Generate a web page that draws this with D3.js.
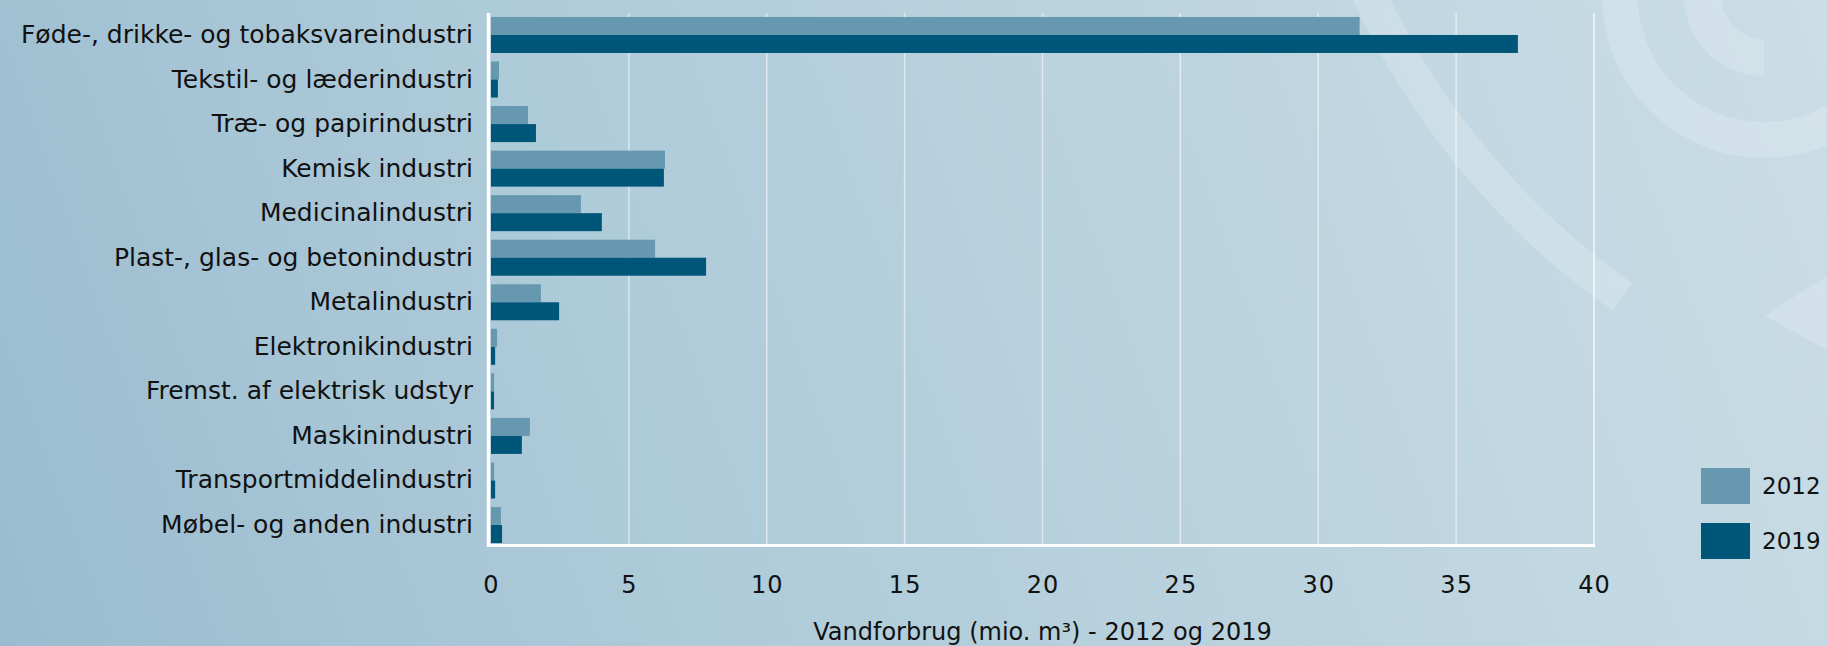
<!DOCTYPE html>
<html>
<head>
<meta charset="utf-8">
<script src="https://cdn.jsdelivr.net/npm/d3@7"></script>
<style>
    body { margin: 0; padding: 0; overflow: hidden; }
    svg { display: block; }
    .cat-label { font-family: "DejaVu Sans", sans-serif; font-size: 25px; fill: #111; }
    .num-label { font-family: "DejaVu Sans", sans-serif; font-size: 24px; letter-spacing: 1px; fill: #111; }
    .legend-label { font-family: "DejaVu Sans", sans-serif; font-size: 23px; fill: #111; }
</style>
</head>
<body>
<div id="chart"></div>
<script>
// parameters
var svgWidth = 1827;
var svgHeight = 646;

// data
var categories = [
    "Føde-, drikke- og tobaksvareindustri",
    "Tekstil- og læderindustri",
    "Træ- og papirindustri",
    "Kemisk industri",
    "Medicinalindustri",
    "Plast-, glas- og betonindustri",
    "Metalindustri",
    "Elektronikindustri",
    "Fremst. af elektrisk udstyr",
    "Maskinindustri",
    "Transportmiddelindustri",
    "Møbel- og anden industri"
];
var years = ["2012", "2019"];
var values2012 = [31.5, 0.29, 1.34, 6.31, 3.26, 5.95, 1.81, 0.22, 0.11, 1.41, 0.11, 0.36];
var values2019 = [37.24, 0.25, 1.63, 6.27, 4.02, 7.8, 2.47, 0.15, 0.11, 1.12, 0.15, 0.4];
var xTicks = [0, 5, 10, 15, 20, 25, 30, 35, 40];
var xTitle = "Vandforbrug (mio. m³) - 2012 og 2019";

var colors = { "2012": "#6698b0", "2019": "#005679" };

// plot box
var plot = { left: 491, right: 1594, top: 12.7, bottom: 547.3 };

var svg = d3.select("#chart")
    .append("svg")
    .attr("width", svgWidth)
    .attr("height", svgHeight);

// background
var defs = svg.append("defs");
var grad = defs.append("linearGradient")
    .attr("id", "bg")
    .attr("gradientUnits", "userSpaceOnUse")
    .attr("x1", 0).attr("y1", svgHeight)
    .attr("x2", svgWidth).attr("y2", 0);
grad.append("stop").attr("offset", "0%").attr("stop-color", "#9bbcd0");
grad.append("stop").attr("offset", "35%").attr("stop-color", "#aecbd9");
grad.append("stop").attr("offset", "100%").attr("stop-color", "#cbdde6");

svg.append("rect")
    .attr("width", svgWidth)
    .attr("height", svgHeight)
    .attr("fill", "url(#bg)");

// watermark shapes (light arcs on the right)
var deco = svg.append("g")
    .attr("fill", "#ffffff")
    .attr("fill-opacity", 0.18);

var bigArc = d3.arc()
    .innerRadius(745)
    .outerRadius(779)
    .startAngle(-2.53)
    .endAngle(-1.8);
deco.append("path")
    .attr("transform", "translate(2060,-327)")
    .attr("d", bigArc());

var ringOuter = d3.arc().innerRadius(126).outerRadius(162)
    .startAngle(Math.PI * 0.3).endAngle(Math.PI * 1.6);
deco.append("path")
    .attr("transform", "translate(1764,-4)")
    .attr("d", ringOuter());

var ringInner = d3.arc().innerRadius(43).outerRadius(80)
    .startAngle(Math.PI).endAngle(Math.PI * 1.6);
deco.append("path")
    .attr("transform", "translate(1764,-4)")
    .attr("d", ringInner());

deco.append("path")
    .attr("d", d3.line()([[1765, 316], [1827, 276], [1827, 350]]));

// scales
var xScale = d3.scaleLinear()
    .domain([0, 40])
    .range([plot.left, plot.right]);

var yScale = d3.scaleBand()
    .domain(categories)
    .range([plot.top, plot.bottom])
    .paddingInner(0.192)
    .paddingOuter(0.096);

var yInner = d3.scaleBand()
    .domain(years)
    .range([0, yScale.bandwidth()]);

// grid
svg.append("g")
    .selectAll("line")
    .data(xTicks.slice(1))
    .enter()
    .append("line")
    .attr("x1", d => xScale(d))
    .attr("x2", d => xScale(d))
    .attr("y1", 13)
    .attr("y2", 546)
    .attr("stroke", "#ffffff")
    .attr("stroke-opacity", d => d === 40 ? 0.85 : 0.55)
    .attr("stroke-width", 1.5);

// bars
var rows = categories.map(function (c, i) {
    return { cat: c, "2012": values2012[i], "2019": values2019[i] };
});

var groups = svg.append("g")
    .selectAll("g")
    .data(rows)
    .enter()
    .append("g")
    .attr("transform", d => `translate(0, ${yScale(d.cat)})`);

groups.selectAll("rect")
    .data(d => years.map(y => ({ year: y, value: d[y] })))
    .enter()
    .append("rect")
    .attr("x", xScale(0))
    .attr("y", d => yInner(d.year))
    .attr("width", d => xScale(d.value) - xScale(0))
    .attr("height", yInner.bandwidth())
    .attr("fill", d => colors[d.year]);

// axis lines
svg.append("line")
    .attr("x1", 488.5).attr("x2", 488.5)
    .attr("y1", 13).attr("y2", 547)
    .attr("stroke", "#ffffff")
    .attr("stroke-width", 3.5);

svg.append("line")
    .attr("x1", 487).attr("x2", xScale(40) + 1)
    .attr("y1", 545.5).attr("y2", 545.5)
    .attr("stroke", "#ffffff")
    .attr("stroke-width", 3);

// y axis labels
var yAxis = d3.axisLeft(yScale).tickSize(0).tickPadding(18);
var yAxisG = svg.append("g")
    .attr("transform", `translate(${xScale(0)}, 0)`)
    .call(yAxis);
yAxisG.select(".domain").remove();
yAxisG.selectAll("text")
    .attr("class", "cat-label")
    .attr("font-family", null)
    .attr("font-size", null)
    .attr("fill", null);

// x axis labels
var xAxis = d3.axisBottom(xScale).tickValues(xTicks).tickSize(0).tickPadding(30);
var xAxisG = svg.append("g")
    .attr("transform", "translate(0, 546)")
    .call(xAxis);
xAxisG.select(".domain").remove();
xAxisG.selectAll("text")
    .attr("class", "num-label")
    .attr("font-family", null)
    .attr("font-size", null)
    .attr("fill", null);

// x title
svg.append("text")
    .attr("class", "cat-label")
    .attr("x", (plot.left + plot.right) / 2)
    .attr("y", 640)
    .attr("text-anchor", "middle")
    .style("font-size", "24px")
    .text(xTitle);

// legend
var legend = svg.append("g")
    .selectAll("g")
    .data(years)
    .enter()
    .append("g")
    .attr("transform", (d, i) => `translate(1701, ${468 + i * 55})`);

legend.append("rect")
    .attr("width", 49)
    .attr("height", 36)
    .attr("fill", d => colors[d]);

legend.append("text")
    .attr("class", "legend-label")
    .attr("x", 61)
    .attr("y", 26)
    .text(d => d);
</script>
</body>
</html>
